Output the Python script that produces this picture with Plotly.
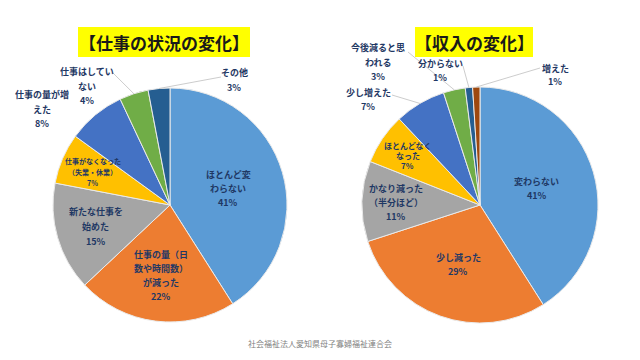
import math
import plotly.graph_objects as go

# ---------------- data ----------------
work_labels = ["ほとんど変わらない", "仕事の量（日数や時間数）が減った", "新たな仕事を始めた",
               "仕事がなくなった（失業・休業）", "仕事の量が増えた", "仕事はしていない", "その他"]
work_values = [41, 22, 15, 7, 8, 4, 3]
work_text = ["ほとんど変<br>わらない", "仕事の量（日<br>数や時間数）<br>が減った", "新たな仕事を<br>始めた",
             "仕事がなくなった<br>（失業・休業）", "仕事の量が増<br>えた", "仕事はしてい<br>ない", "その他"]

income_labels = ["変わらない", "少し減った", "かなり減った（半分ほど）", "ほとんどなくなった",
                 "少し増えた", "今後減ると思われる", "分からない", "増えた"]
income_values = [41, 29, 11, 7, 7, 3, 1, 1]
income_text = ["変わらない", "少し減った", "かなり減った<br>（半分ほど）", "ほとんどなく<br>なった",
               "少し増えた", "今後減ると思<br>われる", "分からない", "増えた"]

title_left = "【仕事の状況の変化】"
title_right = "【収入の変化】"
footer = "社会福祉法人愛知県母子寡婦福祉連合会"

# ---------------- styling / layout ----------------
W, H = 640, 360
colors8 = ["#5B9BD5", "#ED7D31", "#A5A5A5", "#FFC000", "#4472C4", "#70AD47", "#255E91", "#9E480E"]
TXT = "#1F3864"
FONT = "Noto Sans CJK JP"

# pie boxes in pixels (x0, x1, y0, y1)
left_box = (53, 287, 88, 322)
right_box = (362, 598, 87, 323)

# label placement: ("in", radius_fraction, size, spacing) or ("out", cx, cy, size, spacing, line_start or None)
left_place = [("in", 0.52, 9, 14), ("in", 0.61, 9, 14), ("in", 0.66, 9, 15), ("in", 0.72, 7, 11),
              ("out", 42, 109, 9, 14, None), ("out", 87, 86, 9, 14, (113, 73)),
              ("out", 234, 80, 9, 14, (221, 77))]
right_place = [("in", 0.50, 9, 14), ("in", 0.54, 9, 14), ("in", 0.71, 9, 14), ("in", 0.74, 8, 10),
               ("out", 368, 99, 9, 14, (392, 95)), ("out", 378, 62, 9, 14, (408, 52)),
               ("out", 440, 70, 9, 14, (463, 66)), ("out", 555, 75, 9, 14, (540, 68))]


def px(x):
    return x / W


def py(y):
    return 1 - y / H


fig = go.Figure()
annotations = []
shapes = []


def add_pie(labels, values, texts, box, place, name):
    x0, x1, y0, y1 = box
    fig.add_trace(go.Pie(
        labels=labels, values=values, name=name,
        domain=dict(x=[px(x0), px(x1)], y=[py(y1), py(y0)]),
        sort=False, direction="clockwise", rotation=0,
        marker=dict(colors=colors8[:len(values)], line=dict(color="#EAEAEA", width=1)),
        textinfo="none", hoverinfo="label+percent", showlegend=False,
    ))
    cx, cy = (x0 + x1) / 2, (y0 + y1) / 2
    R = min(x1 - x0, y1 - y0) / 2
    total = sum(values)
    cum = 0
    for v, t, p in zip(values, texts, place):
        theta = math.radians((cum + v / 2) / total * 360)
        cum += v
        s, c = math.sin(theta), -math.cos(theta)
        lines = t.split("<br>") + [f"{v}%"]
        if p[0] == "in":
            rf, size, sp = p[1], p[2], p[3]
            lx, ly = cx + rf * R * s, cy + rf * R * c
        else:
            lx, ly, size, sp, start = p[1], p[2], p[3], p[4], p[5]
            if start is not None:
                ex, ey = cx + R * s, cy + R * c
                shapes.append(dict(type="line", xref="paper", yref="paper",
                                   x0=px(start[0]), y0=py(start[1]), x1=px(ex), y1=py(ey),
                                   line=dict(color="#BFBFBF", width=0.8)))
        n = len(lines)
        for i, ln in enumerate(lines):
            yy = ly + (i - (n - 1) / 2) * sp
            annotations.append(dict(
                x=px(lx), y=py(yy), xref="paper", yref="paper", text=ln, showarrow=False,
                xanchor="center", yanchor="middle",
                font=dict(family=FONT, size=size, color=TXT, weight="bold")))


add_pie(work_labels, work_values, work_text, left_box, left_place, "仕事の状況の変化")
add_pie(income_labels, income_values, income_text, right_box, right_place, "収入の変化")

# title boxes
for (bx0, bx1, by0, by1, txt) in [(78, 250, 27, 57, title_left), (415, 533, 27, 57, title_right)]:
    shapes.append(dict(type="rect", xref="paper", yref="paper", x0=px(bx0), x1=px(bx1),
                       y0=py(by1), y1=py(by0), fillcolor="#FFFF00", line=dict(width=0), layer="below"))
    annotations.append(dict(x=px((bx0 + bx1) / 2), y=py((by0 + by1) / 2), xref="paper", yref="paper",
                            text=txt, showarrow=False, xanchor="center", yanchor="middle",
                            font=dict(family=FONT, size=17, color="#1A1A1A", weight="bold")))

annotations.append(dict(x=px(320), y=py(343), xref="paper", yref="paper", text=footer, showarrow=False,
                        xanchor="center", yanchor="middle",
                        font=dict(family=FONT, size=8, color="#7F7F7F")))

fig.update_layout(width=W, height=H, margin=dict(l=0, r=0, t=0, b=0),
                  paper_bgcolor="white", plot_bgcolor="white",
                  annotations=annotations, shapes=shapes)

fig.write_html("out.html", config={"displayModeBar": False},
               post_script="document.body.style.margin='0px';")
